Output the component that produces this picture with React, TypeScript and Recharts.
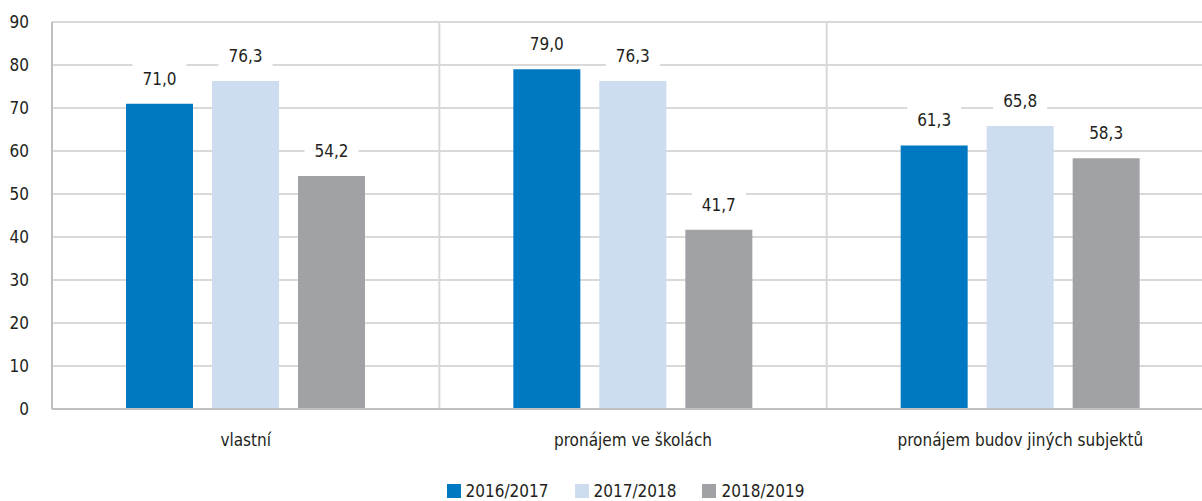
import { BarChart, Bar, XAxis, YAxis, CartesianGrid, Legend, LabelList } from 'recharts';

const categories = ['vlastní', 'pronájem ve školách', 'pronájem budov jiných subjektů'];
const series2016 = [71.0, 79.0, 61.3];
const series2017 = [76.3, 76.3, 65.8];
const series2018 = [54.2, 41.7, 58.3];
const yTicks = [0, 10, 20, 30, 40, 50, 60, 70, 80, 90];

const seriesDefs = [
  { key: 's2016', name: '2016/2017', color: '#0079c2' },
  { key: 's2017', name: '2017/2018', color: '#cddcee' },
  { key: 's2018', name: '2018/2019', color: '#a1a2a5' },
];

const data = categories.map((name, i) => ({
  name,
  s2016: series2016[i],
  s2017: series2017[i],
  s2018: series2018[i],
}));

const FONT = "'DejaVu Sans Condensed', 'Liberation Sans Narrow', sans-serif";
const FS = 17;
const TEXT = '#231f20';

const renderLabel = (props: any) => {
  const { x, y, width, value } = props;
  const cx = x + width / 2;
  return (
    <g>
      <rect x={cx - 27} y={y - 40} width={54} height={30} fill="#ffffff" />
      <text x={cx} y={y - 25} textAnchor="middle" dominantBaseline="central" fill={TEXT} fontSize={FS} fontFamily={FONT}>
        {Number(value).toFixed(1).replace('.', ',')}
      </text>
    </g>
  );
};

const renderLegend = () => (
  <div style={{ display: 'flex', justifyContent: 'center', alignItems: 'center', height: 26, paddingLeft: 37, fontFamily: FONT, fontSize: FS, color: TEXT }}>
    {seriesDefs.map((s) => (
      <div key={s.key} style={{ display: 'flex', alignItems: 'center', margin: '0 13px' }}>
        <span style={{ display: 'inline-block', width: 14, height: 14, background: s.color, marginRight: 5 }} />
        <span>{s.name}</span>
      </div>
    ))}
  </div>
);

export default function App() {
  return (
    <div style={{ position: 'fixed', top: 0, left: 0, width: 1202, height: 501, overflow: 'hidden', background: '#fff' }}>
      <BarChart
        width={1220}
        height={501}
        data={data}
        margin={{ top: 22, right: 6, left: 0, bottom: 0 }}
        barCategoryGap={74}
        barGap={19}
      >
        <CartesianGrid
          stroke="#d9d9d9"
          strokeWidth={2}
          verticalCoordinatesGenerator={({ offset }: any) => [1, 2, 3].map((i) => offset.left + (offset.width * i) / 3)}
        />
        <XAxis
          dataKey="name"
          height={66}
          axisLine={{ stroke: '#bfbfbf', strokeWidth: 2 }}
          tickLine={false}
          tickSize={0}
          tickMargin={25}
          tick={{ fill: TEXT, fontSize: FS, fontFamily: FONT }}
        />
        <YAxis
          width={52}
          domain={[0, 90]}
          ticks={yTicks}
          axisLine={{ stroke: '#bfbfbf', strokeWidth: 2 }}
          tickLine={false}
          tickSize={0}
          tickMargin={23}
          tick={{ fill: TEXT, fontSize: FS, fontFamily: FONT }}
        />
        <Legend verticalAlign="bottom" content={renderLegend} wrapperStyle={{ bottom: -3 }} />
        {seriesDefs.map((s) => (
          <Bar key={s.key} dataKey={s.key} name={s.name} fill={s.color} isAnimationActive={false}>
            <LabelList dataKey={s.key} content={renderLabel} />
          </Bar>
        ))}
      </BarChart>
    </div>
  );
}
